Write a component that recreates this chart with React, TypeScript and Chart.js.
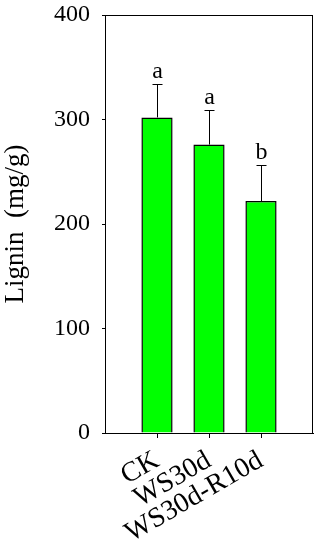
import React, { useEffect, useRef } from "react";
import { Chart, registerables } from "chart.js";

Chart.register(...registerables);

const categories = ["", "CK", "WS30d", "WS30d-R10d", ""];
const means = [null, 302, 276, 222, null];
const errors = [null, 32, 33, 34, null];
const letters = ["", "a", "a", "b", ""];
const yTicks = [0, 100, 200, 300, 400];

const FONT = "'Liberation Serif'";

const decorPlugin = {
  id: "decor",
  afterDatasetsDraw(chart: any) {
    const { ctx, chartArea, scales } = chart;
    const x = scales.x;
    const y = scales.y;
    ctx.save();
    ctx.strokeStyle = "#000";
    ctx.fillStyle = "#000";
    ctx.lineWidth = 1;
    means.forEach((m, i) => {
      if (m == null) return;
      const e = errors[i] as number;
      const px = Math.round(x.getPixelForValue(i)) + 0.5;
      const py0 = y.getPixelForValue(m);
      const py1 = Math.round(y.getPixelForValue(m + e)) + 0.5;
      ctx.beginPath();
      ctx.moveTo(px, py0);
      ctx.lineTo(px, py1);
      ctx.moveTo(px - 5, py1);
      ctx.lineTo(px + 5, py1);
      ctx.stroke();
      ctx.font = "24px " + FONT;
      ctx.textAlign = "center";
      ctx.textBaseline = "alphabetic";
      ctx.fillText(letters[i], px, py1 - 7);
    });
    ctx.strokeRect(
      Math.round(chartArea.left) + 0.5,
      Math.round(chartArea.top) + 0.5,
      Math.round(chartArea.right - chartArea.left) - 1,
      Math.round(chartArea.bottom - chartArea.top)
    );
    ctx.restore();
  },
};

const zeroPad = (s: any) => {
  s.paddingTop = 0;
  s.paddingBottom = 0;
  s.paddingLeft = 0;
  s.paddingRight = 0;
};

export default function App() {
  const ref = useRef<HTMLCanvasElement>(null);
  useEffect(() => {
    if (!ref.current) return;
    let chart: any = null;
    let dead = false;
    const make = () => {
      if (dead || !ref.current) return;
      if (chart) {
        chart.update();
        return;
      }
      chart = new Chart(ref.current, {
        type: "bar",
        data: {
          labels: categories,
          datasets: [
            {
              data: means as any,
              backgroundColor: "#00ff00",
              borderColor: "#000000",
              borderWidth: 1.5,
              barPercentage: 0.6,
              categoryPercentage: 1,
            },
          ],
        },
        options: {
          responsive: false,
          animation: false,
          devicePixelRatio: 1,
          layout: { padding: { top: 15, right: 8, left: 0, bottom: 0 }, autoPadding: false },
          plugins: { legend: { display: false }, tooltip: { enabled: false } },
          scales: {
            x: {
              type: "category",
              offset: false,
              grid: {
                offset: false,
                drawOnChartArea: false,
                drawTicks: true,
                tickLength: 5,
                color: (c: any) =>
                  c.index === 0 || c.index === categories.length - 1 ? "rgba(0,0,0,0)" : "#000",
              },
              border: { color: "#000", width: 1 },
              ticks: {
                color: "#000",
                font: { family: FONT, size: 28 },
                maxRotation: 30,
                minRotation: 30,
                autoSkip: false,
                padding: 6,
              },
              afterFit: (s: any) => {
                s.height = 117;
                zeroPad(s);
              },
            },
            y: {
              min: 0,
              max: 400,
              afterBuildTicks: (s: any) => {
                s.ticks = yTicks.map((v) => ({ value: v }));
              },
              grid: {
                drawOnChartArea: false,
                drawTicks: true,
                tickLength: 3,
                color: "#000",
              },
              border: { color: "#000", width: 1 },
              ticks: {
                color: "#000",
                font: { family: FONT, size: 24 },
                padding: 12,
              },
              title: {
                display: true,
                text: "Lignin  (mg/g)",
                color: "#000",
                font: { family: FONT, size: 27 },
                padding: 0,
              },
              afterFit: (s: any) => {
                s.width = 105;
                zeroPad(s);
              },
            },
          },
        },
        plugins: [decorPlugin],
      });
    };
    const fonts: any = (document as any).fonts;
    if (fonts && fonts.load) {
      Promise.all([
        fonts.load("24px 'Liberation Serif'"),
        fonts.load("27px 'Liberation Serif'"),
        fonts.load("28px 'Liberation Serif'"),
      ]).then(make, make);
    } else make();
    const timers = [300, 800].map((t) => setTimeout(make, t));
    return () => {
      dead = true;
      timers.forEach(clearTimeout);
      if (chart) chart.destroy();
    };
  }, []);
  return (
    <div style={{ position: "fixed", left: 0, top: 0, width: 321, height: 550, background: "#fff" }}>
      <canvas
        ref={ref}
        width={321}
        height={550}
        style={{ position: "absolute", left: 0, top: 0, width: 321, height: 550 }}
      />
    </div>
  );
}
